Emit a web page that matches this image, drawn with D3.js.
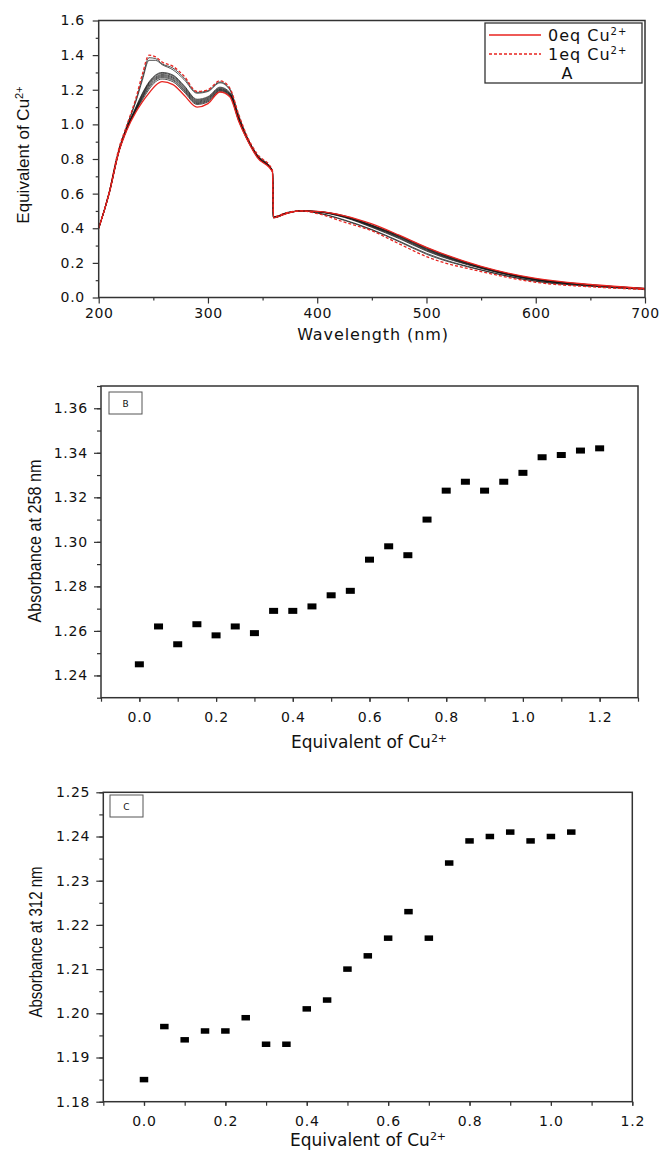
<!DOCTYPE html>
<html>
<head>
<meta charset="utf-8">
<script src="https://cdn.jsdelivr.net/npm/d3@7"></script>
<style>
  body { margin: 0; background: #fff; }
  text { font-family: "DejaVu Sans", "Liberation Sans", sans-serif; fill: #111; }
  .narrow { font-family: "Liberation Sans Narrow", "Liberation Sans", sans-serif; }
</style>
</head>
<body>
<svg id="fig" width="662" height="1151"></svg>
<script>
// ---- panel A : UV-vis spectra ----
const wavelengths = [200,210,218,226,234,240,246,252,258,268,278,290,300,311,320,328,336,345,359,360,372,385,400,425,450,475,500,550,600,650,700];
const spec0eq = [0.40,0.61,0.83,0.97,1.07,1.13,1.18,1.225,1.247,1.23,1.17,1.10,1.12,1.187,1.16,1.02,0.91,0.81,0.725,0.46,0.485,0.50,0.497,0.472,0.425,0.36,0.29,0.18,0.11,0.075,0.052];
const spec1eq = [0.40,0.62,0.85,1.00,1.15,1.29,1.40,1.39,1.36,1.335,1.28,1.19,1.20,1.252,1.21,1.06,0.93,0.83,0.737,0.467,0.49,0.50,0.485,0.435,0.385,0.31,0.236,0.15,0.088,0.062,0.046];
const specMid1 = [0.40,0.62,0.845,0.995,1.14,1.27,1.385,1.38,1.35,1.325,1.27,1.185,1.195,1.245,1.205,1.055,0.925,0.826,0.733,0.466,0.49,0.50,0.488,0.445,0.39,0.322,0.25,0.158,0.093,0.065,0.047];
const specMid2 = [0.40,0.62,0.84,0.995,1.13,1.255,1.37,1.37,1.345,1.315,1.26,1.18,1.19,1.24,1.20,1.05,0.922,0.824,0.732,0.465,0.49,0.50,0.489,0.448,0.393,0.326,0.255,0.16,0.095,0.066,0.048];
const specMid3 = [0.40,0.615,0.835,0.985,1.10,1.18,1.245,1.285,1.30,1.285,1.225,1.145,1.16,1.215,1.185,1.04,0.92,0.82,0.732,0.463,0.488,0.50,0.495,0.462,0.405,0.34,0.268,0.168,0.10,0.07,0.05];
const specMid4 = [0.40,0.615,0.835,0.983,1.095,1.175,1.24,1.28,1.295,1.28,1.22,1.14,1.155,1.21,1.18,1.037,0.918,0.818,0.731,0.463,0.488,0.50,0.495,0.464,0.408,0.344,0.272,0.17,0.101,0.07,0.05];
const specMid5 = [0.40,0.613,0.833,0.981,1.09,1.168,1.235,1.273,1.288,1.273,1.213,1.135,1.15,1.206,1.177,1.034,0.916,0.816,0.73,0.462,0.487,0.50,0.496,0.466,0.411,0.348,0.276,0.172,0.103,0.071,0.051];
const specMid6 = [0.40,0.613,0.833,0.979,1.087,1.162,1.228,1.267,1.282,1.267,1.207,1.13,1.145,1.202,1.174,1.031,0.914,0.815,0.729,0.462,0.487,0.50,0.496,0.467,0.413,0.351,0.279,0.174,0.104,0.072,0.051];
const specMid7 = [0.40,0.612,0.832,0.977,1.084,1.156,1.22,1.261,1.276,1.26,1.20,1.125,1.14,1.198,1.171,1.028,0.913,0.814,0.728,0.461,0.486,0.50,0.497,0.469,0.415,0.354,0.282,0.176,0.106,0.073,0.052];
const specMid8 = [0.40,0.612,0.832,0.975,1.08,1.15,1.212,1.255,1.27,1.254,1.195,1.12,1.135,1.195,1.168,1.025,0.912,0.813,0.727,0.461,0.486,0.50,0.497,0.47,0.417,0.356,0.285,0.177,0.107,0.073,0.052];
const specMid9 = [0.40,0.611,0.831,0.973,1.076,1.142,1.202,1.246,1.262,1.246,1.188,1.115,1.13,1.19,1.165,1.023,0.911,0.812,0.726,0.46,0.485,0.50,0.497,0.472,0.419,0.358,0.288,0.178,0.108,0.074,0.052];
const midSpectra = [specMid1, specMid2, specMid3, specMid4, specMid5, specMid6, specMid7, specMid8, specMid9];
const ticksWave = [200,300,400,500,600,700];
const ticksAbsA = [0,0.2,0.4,0.6,0.8,1.0,1.2,1.4,1.6];

// ---- panel B : absorbance at 258 nm ----
const equivB = [0,0.05,0.1,0.15,0.2,0.25,0.3,0.35,0.4,0.45,0.5,0.55,0.6,0.65,0.7,0.75,0.8,0.85,0.9,0.95,1.0,1.05,1.1,1.15,1.2];
const abs258 = [1.245,1.262,1.254,1.263,1.258,1.262,1.259,1.269,1.269,1.271,1.276,1.278,1.292,1.298,1.294,1.310,1.323,1.327,1.323,1.327,1.331,1.338,1.339,1.341,1.342];
const ticksEqB = [0,0.2,0.4,0.6,0.8,1.0,1.2];
const ticksAbsB = [1.24,1.26,1.28,1.30,1.32,1.34,1.36];

// ---- panel C : absorbance at 312 nm ----
const equivC = [0,0.05,0.1,0.15,0.2,0.25,0.3,0.35,0.4,0.45,0.5,0.55,0.6,0.65,0.7,0.75,0.8,0.85,0.9,0.95,1.0,1.05];
const abs312 = [1.185,1.197,1.194,1.196,1.196,1.199,1.193,1.193,1.201,1.203,1.210,1.213,1.217,1.223,1.217,1.234,1.239,1.240,1.241,1.239,1.240,1.241];
const ticksEqC = [0,0.2,0.4,0.6,0.8,1.0,1.2];
const ticksAbsC = [1.18,1.19,1.20,1.21,1.22,1.23,1.24,1.25];

const svg = d3.select('#fig');
const red = '#e8231f';
const frameColor = '#333';

// frame + major/minor ticks for one panel
function drawAxes(x, y, o) {
    const [x0, x1] = x.range();
    const [y0, y1] = y.range();
    const g = svg.append('g');

    g.append('g').attr('transform', `translate(0,${y0})`)
        .call(d3.axisBottom(x).tickValues(o.xMinor).tickSize(o.xMinorLen).tickFormat(''));
    g.append('g').attr('transform', `translate(0,${y0})`)
        .call(d3.axisBottom(x).tickValues(o.xMajor).tickSize(o.xMajorLen).tickPadding(o.xPad).tickFormat(o.xFmt));
    g.append('g').attr('transform', `translate(${x0},0)`)
        .call(d3.axisLeft(y).tickValues(o.yMinor).tickSize(o.yMinorLen).tickFormat(''));
    g.append('g').attr('transform', `translate(${x0},0)`)
        .call(d3.axisLeft(y).tickValues(o.yMajor).tickSize(o.yMajorLen).tickPadding(o.yPad).tickFormat(o.yFmt));

    g.selectAll('.domain').remove();
    g.selectAll('.tick line').attr('stroke', frameColor).attr('stroke-width', 1.2);
    g.selectAll('.tick text')
        .attr('font-size', o.fontSize)
        .attr('letter-spacing', o.spacing)
        .attr('fill', '#111')
        .attr('font-family', '"DejaVu Sans", sans-serif');

    g.append('rect')
        .attr('x', x0).attr('y', y1)
        .attr('width', x1 - x0).attr('height', y0 - y1)
        .attr('fill', 'none')
        .attr('stroke', frameColor)
        .attr('stroke-width', 1.5);
}

function supText(sel, base, sup, supSize) {
    sel.append('tspan').text(base);
    sel.append('tspan').attr('dy', -6).attr('font-size', supSize).text(sup);
}

// ================= Panel A =================
const xA = d3.scaleLinear().domain([200, 700]).range([98.7, 645]);
const yA = d3.scaleLinear().domain([0, 1.6]).range([297.5, 20.5]);

const lineA = d3.line()
    .x((d, i) => xA(wavelengths[i]))
    .y(d => yA(d))
    .curve(d3.curveMonotoneX);

svg.append('g').selectAll('path')
    .data(midSpectra)
    .enter()
    .append('path')
    .attr('d', lineA)
    .attr('fill', 'none')
    .attr('stroke', '#111')
    .attr('stroke-opacity', 0.8)
    .attr('stroke-width', 0.9);

svg.append('path').datum(spec0eq)
    .attr('d', lineA).attr('fill', 'none')
    .attr('stroke', red).attr('stroke-width', 1.3);
svg.append('path').datum(spec1eq)
    .attr('d', lineA).attr('fill', 'none')
    .attr('stroke', red).attr('stroke-width', 1.3)
    .attr('stroke-dasharray', '3,2');

drawAxes(xA, yA, {
    xMajor: ticksWave, xMinor: d3.range(250, 700, 100), xMajorLen: 6, xMinorLen: 3, xPad: 5,
    yMajor: ticksAbsA, yMinor: d3.range(0.1, 1.6, 0.2), yMajorLen: 6, yMinorLen: 3, yPad: 8,
    xFmt: d3.format('d'), yFmt: d3.format('.1f'), fontSize: 14, spacing: 0.6
});

// legend A
const leg = svg.append('g');
leg.append('rect').attr('x', 485).attr('y', 23).attr('width', 157).attr('height', 60)
    .attr('fill', '#fff').attr('stroke', frameColor).attr('stroke-width', 1.3);
leg.append('line').attr('x1', 489).attr('x2', 541).attr('y1', 35).attr('y2', 35)
    .attr('stroke', red).attr('stroke-width', 1.3);
leg.append('line').attr('x1', 489).attr('x2', 541).attr('y1', 54).attr('y2', 54)
    .attr('stroke', red).attr('stroke-width', 1.3).attr('stroke-dasharray', '3,2');
supText(leg.append('text').attr('x', 548).attr('y', 41).attr('font-size', 16).attr('letter-spacing', 1), '0eq Cu', '2+', 10);
supText(leg.append('text').attr('x', 548).attr('y', 60).attr('font-size', 16).attr('letter-spacing', 1), '1eq Cu', '2+', 10);
leg.append('text').attr('x', 567).attr('y', 79).attr('font-size', 16).attr('text-anchor', 'middle').text('A');

svg.append('text').attr('x', 373).attr('y', 340).attr('font-size', 16)
    .attr('text-anchor', 'middle').attr('letter-spacing', 0.9).text('Wavelength (nm)');
supText(svg.append('text').attr('class', 'narrow')
    .attr('transform', 'translate(29,155) rotate(-90)')
    .attr('text-anchor', 'middle').attr('font-size', 17), 'Equivalent of Cu', '2+', 11);

// ================= Panel B =================
const xB = d3.scaleLinear().domain([-0.1, 1.3]).range([101, 638]);
const yB = d3.scaleLinear().domain([1.23, 1.37]).range([697.7, 386]);

svg.append('g').selectAll('rect')
    .data(equivB)
    .enter()
    .append('rect')
    .attr('x', d => xB(d) - 4.5)
    .attr('y', (d, i) => yB(abs258[i]) - 3)
    .attr('width', 9)
    .attr('height', 6)
    .attr('fill', '#000');

drawAxes(xB, yB, {
    xMajor: ticksEqB, xMinor: d3.range(-0.1, 1.31, 0.1), xMajorLen: 4, xMinorLen: 4, xPad: 10,
    yMajor: ticksAbsB, yMinor: d3.range(1.23, 1.371, 0.01), yMajorLen: 7, yMinorLen: 4, yPad: 6,
    xFmt: d3.format('.1f'), yFmt: d3.format('.2f'), fontSize: 14, spacing: 0.8
});

svg.append('rect').attr('x', 109).attr('y', 392).attr('width', 33).attr('height', 22)
    .attr('fill', '#fff').attr('stroke', '#555').attr('stroke-width', 1);
svg.append('text').attr('x', 125.5).attr('y', 407).attr('font-size', 9).attr('text-anchor', 'middle').text('B');

supText(svg.append('text').attr('x', 369).attr('y', 748).attr('font-size', 17)
    .attr('text-anchor', 'middle'), 'Equivalent of Cu', '2+', 11);
svg.append('text').attr('class', 'narrow')
    .attr('transform', 'translate(41,541) rotate(-90)')
    .attr('text-anchor', 'middle').attr('font-size', 18)
    .attr('textLength', 163).attr('lengthAdjust', 'spacingAndGlyphs')
    .text('Absorbance at 258 nm');

// ================= Panel C =================
const xC = d3.scaleLinear().domain([-0.1, 1.2]).range([103.3, 632.3]);
const yC = d3.scaleLinear().domain([1.18, 1.25]).range([1101.7, 792.3]);

svg.append('g').selectAll('rect')
    .data(equivC)
    .enter()
    .append('rect')
    .attr('x', d => xC(d) - 4.25)
    .attr('y', (d, i) => yC(abs312[i]) - 2.75)
    .attr('width', 8.5)
    .attr('height', 5.5)
    .attr('fill', '#000');

drawAxes(xC, yC, {
    xMajor: ticksEqC, xMinor: d3.range(-0.1, 1.21, 0.1), xMajorLen: 4, xMinorLen: 4, xPad: 10,
    yMajor: ticksAbsC, yMinor: d3.range(1.18, 1.2501, 0.005), yMajorLen: 7, yMinorLen: 4, yPad: 6,
    xFmt: d3.format('.1f'), yFmt: d3.format('.2f'), fontSize: 14, spacing: 0.8
});

svg.append('rect').attr('x', 110).attr('y', 795).attr('width', 33).attr('height', 22)
    .attr('fill', '#fff').attr('stroke', '#555').attr('stroke-width', 1);
svg.append('text').attr('x', 126.5).attr('y', 810).attr('font-size', 9).attr('text-anchor', 'middle').text('C');

supText(svg.append('text').attr('x', 368).attr('y', 1146).attr('font-size', 17)
    .attr('text-anchor', 'middle'), 'Equivalent of Cu', '2+', 11);
svg.append('text').attr('class', 'narrow')
    .attr('transform', 'translate(42,942) rotate(-90)')
    .attr('text-anchor', 'middle').attr('font-size', 18)
    .attr('textLength', 151).attr('lengthAdjust', 'spacingAndGlyphs')
    .text('Absorbance at 312 nm');
</script>
</body>
</html>
